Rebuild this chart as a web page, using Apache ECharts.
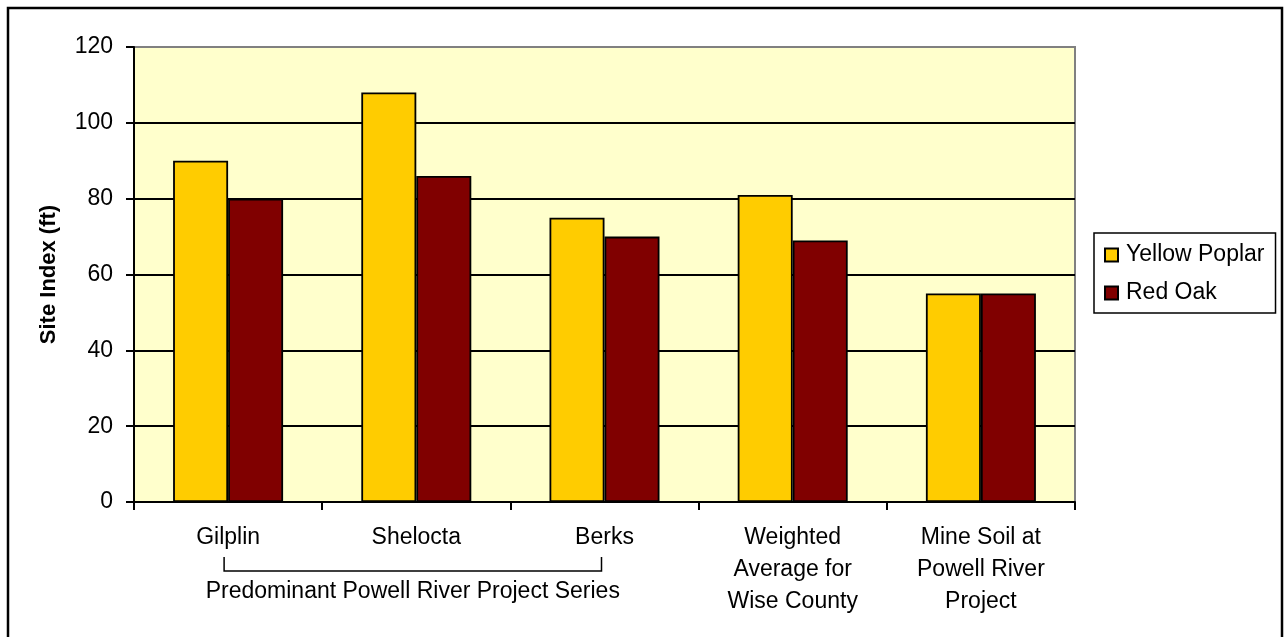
<!DOCTYPE html>
<html>
<head>
<meta charset="utf-8">
<script src="https://cdn.jsdelivr.net/npm/echarts@6/dist/echarts.min.js"></script>
<style>
html,body{margin:0;padding:0;background:#fff;}
#chart{width:1284px;height:637px;}
</style>
</head>
<body>
<div id="chart"></div>
<script>
const categories = ['Gilplin', 'Shelocta', 'Berks', 'Weighted\nAverage for\nWise County', 'Mine Soil at\nPowell River\nProject'];
const yellowPoplar = [90, 108, 75, 81, 55];
const redOak = [80, 86, 70, 69, 55];
const seriesNames = ['Yellow Poplar', 'Red Oak'];
const groupLabel = 'Predominant Powell River Project Series';
const groupFrom = 'Gilplin';
const groupTo = 'Berks';
const yTitle = 'Site Index (ft)';

const FONT = '"Liberation Sans", Arial, sans-serif';
const chart = echarts.init(document.getElementById('chart'), null, {renderer: 'canvas'});

const option = {
  animation: false,
  backgroundColor: '#ffffff',
  textStyle: {fontFamily: FONT, color: '#000'},
  grid: {
    left: 134, right: 209, top: 47, bottom: 135,
    show: true, backgroundColor: '#FFFFCC', borderColor: '#808080', borderWidth: 2
  },
  legend: {
    orient: 'vertical',
    left: 1094, top: 233,
    padding: [10, 11, 8, 10],
    borderColor: '#000', borderWidth: 1.5,
    itemWidth: 13, itemHeight: 13, itemGap: 14,
    icon: 'rect',
    textStyle: {fontFamily: FONT, fontSize: 23, color: '#000', lineHeight: 24, padding: [0, 0, 0, 3]},
    data: seriesNames
  },
  xAxis: {
    type: 'category',
    data: categories,
    axisLine: {show: true, lineStyle: {color: '#000', width: 2}},
    axisTick: {show: true, length: 8, lineStyle: {color: '#000', width: 2}},
    axisLabel: {
      interval: 0, margin: 20, fontFamily: FONT, fontSize: 23, color: '#000',
      lineHeight: 32, align: 'center'
    },
    splitLine: {show: false}
  },
  yAxis: {
    type: 'value',
    min: 0, max: 120, interval: 20,
    name: yTitle,
    nameLocation: 'middle',
    nameRotate: 90,
    nameGap: 74,
    nameTextStyle: {fontFamily: FONT, fontSize: 22, fontWeight: 'bold', color: '#000'},
    axisLine: {show: true, lineStyle: {color: '#000', width: 2}},
    axisTick: {show: true, length: 8, lineStyle: {color: '#000', width: 2}},
    axisLabel: {margin: 21, fontFamily: FONT, fontSize: 23, color: '#000'},
    splitLine: {show: true, lineStyle: {color: ['#000','#000','#000','#000','#000','#000','#808080'], width: 2}}
  },
  series: [
    {
      name: seriesNames[0], type: 'bar', data: yellowPoplar,
      barWidth: 55, barGap: '0%',
      itemStyle: {color: '#FFCC00', borderColor: '#000', borderWidth: 1.8}
    },
    {
      name: seriesNames[1], type: 'bar', data: redOak,
      barWidth: 55, barGap: '0%',
      itemStyle: {color: '#800000', borderColor: '#000', borderWidth: 1.8}
    }
  ]
};
chart.setOption(option);

// group bracket annotation positioned from the category axis
const x1 = chart.convertToPixel({xAxisIndex: 0}, groupFrom) - 4;
const x2 = chart.convertToPixel({xAxisIndex: 0}, groupTo) - 3;
const yAxis0 = chart.convertToPixel({yAxisIndex: 0}, 0);
chart.setOption({
  graphic: [
    {
      type: 'rect', silent: true, z: 100,
      shape: {x: 8, y: 8, width: 1274, height: 700},
      style: {fill: 'none', stroke: '#000', lineWidth: 2.5}
    },
    {
      type: 'polyline', silent: true,
      shape: {points: [[x1, yAxis0 + 55], [x1, yAxis0 + 69], [x2, yAxis0 + 69], [x2, yAxis0 + 55]]},
      style: {fill: 'none', stroke: '#000', lineWidth: 1.5}
    },
    {
      type: 'text', silent: true,
      x: (x1 + x2) / 2, y: yAxis0 + 90,
      style: {text: groupLabel, font: '23px ' + FONT, fill: '#000', align: 'center', verticalAlign: 'middle'}
    }
  ]
});
</script>
</body>
</html>
